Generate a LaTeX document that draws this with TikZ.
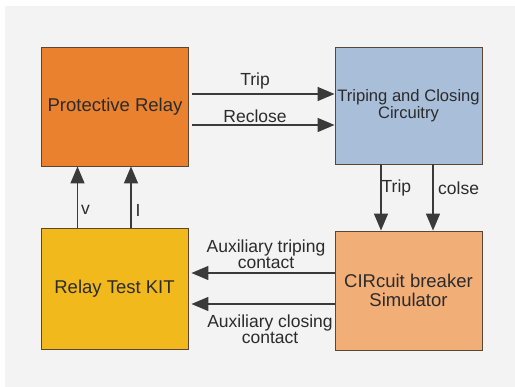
\documentclass[tikz,border=0pt]{standalone}
\usepackage{fontspec}
\setmainfont{Liberation Sans}
\usetikzlibrary{arrows.meta}
\definecolor{bggray}{HTML}{F3F3F3}
\definecolor{txt}{HTML}{2B2B2B}
\definecolor{ln}{HTML}{3A3A3A}
\definecolor{bord}{HTML}{5A4634}
\definecolor{cRelay}{HTML}{E9812F}
\definecolor{cTrip}{HTML}{A9BED8}
\definecolor{cKit}{HTML}{F2B91D}
\definecolor{cCB}{HTML}{F1AE77}
\tikzset{
  blk/.style={draw=bord, line width=0.9pt, minimum width=147pt, inner sep=0pt, text=txt, align=center, font=\fontsize{18.5}{18.5}\selectfont},
  conn/.style={draw=ln, line width=1.4pt, -{Triangle[length=17pt,width=14pt]}},
  lbl/.style={text=txt, align=center, inner sep=0pt, font=\fontsize{17.5}{16}\selectfont}
}
\begin{document}
\begin{tikzpicture}[x=1pt,y=-1pt]
\useasboundingbox (0,0) rectangle (515,387);
\fill[white] (0,0) rectangle (515,387);
\fill[bggray] (5,6) rectangle (515,387);

\node[blk, fill=cRelay, minimum height=119pt] (pr) at (115,106.5) {Protective Relay};
\node[blk, fill=cTrip, minimum height=117pt, font=\fontsize{16.6}{17.5}\selectfont] (tc) at (408.5,105.5) {Triping and Closing\\Circuitry};
\node[blk, fill=cKit, minimum height=121pt] (kit) at (114.5,288.5) {Relay Test KIT};
\node[blk, fill=cCB, minimum height=119pt] (cb) at (408.5,290.5) {CIRcuit breaker\\Simulator};

% horizontal top
\draw[conn] (pr.east |- 0,94) ++(3,0) coordinate (a1) -- (tc.west |- 0,94);
\draw[conn] (pr.east |- 0,125) ++(3,0) coordinate (a2) -- (tc.west |- 0,125);
\node[lbl] (ltrip) at (255,81) {Trip};
\node[lbl] (lrec) at (255,116) {Reclose};

% up arrows
\draw[conn] (kit.north -| 77.5,0) -- (pr.south -| 77.5,0);
\draw[conn] (kit.north -| 131,0) -- (pr.south -| 131,0);
\node[lbl] (lv) at (85.5,210) {v};
\node[lbl] (li) at (138,210) {I};

% down arrows
\draw[conn] (tc.south -| 381,0) -- (cb.north -| 381,0);
\draw[conn] (tc.south -| 433,0) -- (cb.north -| 433,0);
\node[lbl, anchor=west] (ltr2) at (381.5,188) {Trip};
\node[lbl, anchor=west] (lcol) at (438,188) {colse};

% left arrows
\draw[conn] (cb.west |- 0,273) -- ([xshift=3pt]kit.east |- 0,273);
\draw[conn] (cb.west |- 0,304) -- ([xshift=3pt]kit.east |- 0,304);
\node[lbl] (laux1) at (266,254) {Auxiliary triping\\contact};
\node[lbl] (laux2) at (270,329) {Auxiliary closing\\contact};
\end{tikzpicture}
\end{document}
